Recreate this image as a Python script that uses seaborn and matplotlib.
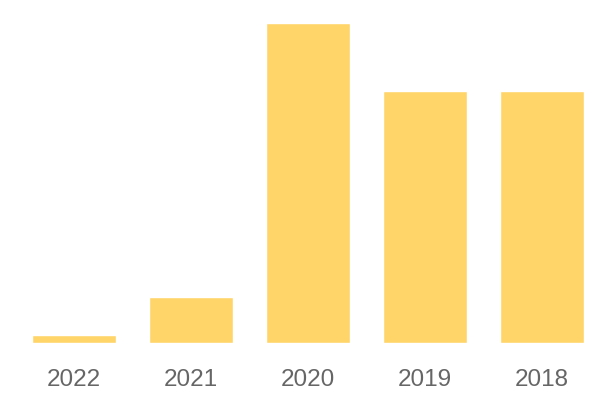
import numpy as np
import pandas as pd
import seaborn as sns
import matplotlib
matplotlib.use("Agg")
import matplotlib.pyplot as plt

# values
years = ["2022", "2021", "2020", "2019", "2018"]
counts = [0.35, 2, 14, 11, 11]

df = pd.DataFrame({"year": years, "count": counts})

sns.set_style("white")
plt.rcParams['font.family'] = ['Liberation Sans', 'DejaVu Sans']

fig = plt.figure(figsize=(6, 4), dpi=100)
ax = fig.add_axes([32 / 600, 57 / 400, 552 / 600, 320.3 / 400])

sns.barplot(data=df, x="year", y="count", color="#FFD56A", saturation=1,
            width=0.72, ax=ax)

ax.set_xlim(-0.36, 4.36)
ax.set_ylim(0, 14)
ax.set_xlabel("")
ax.set_ylabel("")
ax.set_yticks([])
ax.tick_params(axis="x", length=0, pad=19, labelsize=17.5, labelcolor="#666666")
sns.despine(ax=ax, left=True, bottom=True)

fig.savefig("out.png", dpi=100)
